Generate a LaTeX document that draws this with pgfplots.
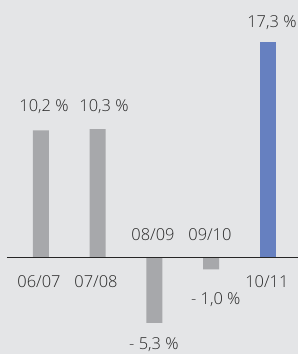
\documentclass[border=0pt]{standalone}
\usepackage{pgfplots}
\pgfplotsset{compat=1.18}
\usepackage{fontspec}
\setmainfont{Open Sans Light}
\definecolor{bg}{RGB}{228,229,231}
\definecolor{bargray}{RGB}{167,168,171}
\definecolor{barblue}{RGB}{102,128,192}
\definecolor{txt}{RGB}{40,40,40}
\tikzset{lbl/.style={font=\fontsize{16.5}{20}\selectfont, text=txt, inner sep=0pt}}
\begin{document}
\begin{tikzpicture}
\path[use as bounding box] (0,0) rectangle (298bp,354bp);
\fill[bg] (0,0) rectangle (298bp,354bp);
\begin{axis}[
  at={(0,0)}, anchor=south west,
  scale only axis, width=298bp, height=354bp,
  xmin=-0.7225, xmax=4.529,
  ymin=-7.80, ymax=20.68,
  hide axis, clip=false,
  ybar, bar width=16bp, bar shift=0pt,
]
\addplot[fill=bargray, draw=none] coordinates {(0,10.2) (1,10.3) (2,-5.3) (3,-1.0)};
\addplot[fill=barblue, draw=none] coordinates {(4,17.3)};
\draw[black!85, line width=0.9pt] (axis cs:-0.6,0) -- (axis cs:4.6,0);
\node[lbl] at (axis cs:0.053,12.07) {10,2 \%};
\node[lbl] at (axis cs:1.11,12.07) {10,3 \%};
\node[lbl] at (axis cs:4.07,18.90) {17,3 \%};
\node[lbl] at (axis cs:1.974,1.77) {08/09};
\node[lbl] at (axis cs:2.977,1.77) {09/10};
\node[lbl] at (axis cs:-0.035,-2.01) {06/07};
\node[lbl] at (axis cs:0.969,-2.01) {07/08};
\node[lbl] at (axis cs:3.98,-2.01) {10/11};
\node[lbl] at (axis cs:3.08,-3.46) {- 1,0 \%};
\node[lbl] at (axis cs:1.99,-7.08) {- 5,3 \%};
\end{axis}
\end{tikzpicture}
\end{document}
